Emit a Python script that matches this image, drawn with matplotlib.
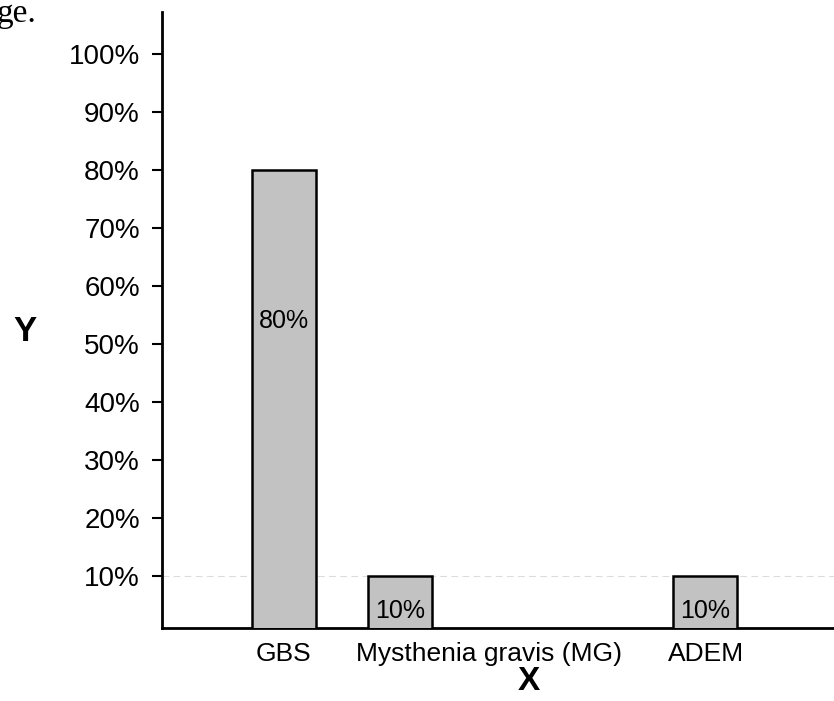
import matplotlib
matplotlib.use("Agg")
import matplotlib.pyplot as plt
from matplotlib.ticker import FuncFormatter

categories = ["GBS", "Mysthenia gravis (MG)", "ADEM"]
values = [80, 10, 10]
bar_labels = ["80%", "10%", "10%"]
yticks = [10, 20, 30, 40, 50, 60, 70, 80, 90, 100]

# layout (not data)
positions = [0, 1, 3.63]
tick_label_positions = [0, 1.77, 3.64]
label_y = [54, 4, 4]

plt.rcParams['font.family'] = ['Liberation Sans', 'DejaVu Sans']

fig = plt.figure(figsize=(8.34, 7.01), dpi=100)
ax = fig.add_axes([162/834, 1 - 628/701, (834-162)/834, (628-12)/701])

ax.bar(positions, values, width=0.55, color='#c2c2c2', edgecolor='black', linewidth=1.8, zorder=3)
for p, ly, t in zip(positions, label_y, bar_labels):
    ax.text(p, ly, t, ha='center', va='center', fontsize=18, zorder=4)

ax.axhline(10, color='#dcdcdc', lw=0.8, ls=(0, (6, 4)), zorder=1)

ax.set_xlim(-1.05, 4.74)
ax.set_ylim(1.0, 107.2)
ax.set_yticks(yticks)
ax.yaxis.set_major_formatter(FuncFormatter(lambda v, _: f"{int(v)}%"))
ax.tick_params(axis='y', labelsize=20, length=7, width=1.5, pad=9)
ax.set_xticks(tick_label_positions)
ax.set_xticklabels(categories, fontsize=19)
ax.tick_params(axis='x', length=0, pad=10)

for s in ['top', 'right']:
    ax.spines[s].set_visible(False)
for s in ['left', 'bottom']:
    ax.spines[s].set_linewidth(2)

fig.text(25/834, 1 - 331/701, "Y", fontsize=25, fontweight='bold', ha='center', va='center')
fig.text(529/834, 1 - 682/701, "X", fontsize=24, fontweight='bold', ha='center', va='center')
fig.text(-3/834, 1 - 14/701, "ge.", fontsize=24, family=['Liberation Serif'], ha='left', va='center')

fig.savefig("out.png", dpi=100)
